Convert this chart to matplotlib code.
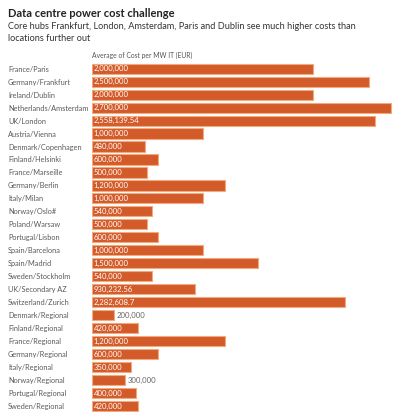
import matplotlib.pyplot as plt

plt.rcParams['font.family'] = ['Lato', 'DejaVu Sans']

locations = ['France/Paris', 'Germany/Frankfurt', 'Ireland/Dublin', 'Netherlands/Amsterdam',
             'UK/London', 'Austria/Vienna', 'Denmark/Copenhagen', 'Finland/Helsinki',
             'France/Marseille', 'Germany/Berlin', 'Italy/Milan', 'Norway/Oslo#',
             'Poland/Warsaw', 'Portugal/Lisbon', 'Spain/Barcelona', 'Spain/Madrid',
             'Sweden/Stockholm', 'UK/Secondary AZ', 'Switzerland/Zurich', 'Denmark/Regional',
             'Finland/Regional', 'France/Regional', 'Germany/Regional', 'Italy/Regional',
             'Norway/Regional', 'Portugal/Regional', 'Sweden/Regional']
costs = [2000000, 2500000, 2000000, 2700000, 2558139.54, 1000000, 480000, 600000,
         500000, 1200000, 1000000, 540000, 500000, 600000, 1000000, 1500000,
         540000, 930232.56, 2282608.7, 200000, 420000, 1200000, 600000, 350000,
         300000, 400000, 420000]
cost_labels = ['2,000,000', '2,500,000', '2,000,000', '2,700,000', '2,558,139.54', '1,000,000',
               '480,000', '600,000', '500,000', '1,200,000', '1,000,000', '540,000',
               '500,000', '600,000', '1,000,000', '1,500,000', '540,000', '930,232.56',
               '2,282,608.7', '200,000', '420,000', '1,200,000', '600,000', '350,000',
               '300,000', '400,000', '420,000']

fig = plt.figure(figsize=(4, 4.18), dpi=100)
ax = fig.add_axes([0.23, 0.0132, 0.761, 0.838])

bar_color = '#d35b2a'
y = list(range(len(locations)))
ax.barh(y, costs, height=0.78, color=bar_color, edgecolor='#f3a97e', linewidth=0.8)

for i, (v, lab) in enumerate(zip(costs, cost_labels)):
    if v < 320000:
        ax.text(v + 20000, i, lab, va='center', ha='left', fontsize=5.6, color='#666666')
    else:
        ax.text(15000, i, lab, va='center', ha='left', fontsize=5.6, color='white')

ax.set_xlim(0, 2750000)
ax.set_ylim(len(locations) - 0.5, -0.5)
ax.set_yticks(y)
ax.set_yticklabels(locations, fontsize=5.3, color='#5a5a5a')
for lab in ax.get_yticklabels():
    lab.set_horizontalalignment('left')
ax.tick_params(axis='y', length=0, pad=60.5)
ax.set_xticks([])
for s in ax.spines.values():
    s.set_visible(False)

fig.text(0.02, 0.968, 'Data centre power cost challenge', fontsize=8.0, fontweight='bold',
         color='#222222', va='center')
fig.text(0.02, 0.922, 'Core hubs Frankfurt, London, Amsterdam, Paris and Dublin see much higher costs than\nlocations further out',
         fontsize=6.55, color='#333333', va='center', linespacing=1.45)
fig.text(0.23, 0.868, 'Average of Cost per MW IT (EUR)', fontsize=4.9, color='#555555', va='center')

fig.savefig('out.png', dpi=100)
